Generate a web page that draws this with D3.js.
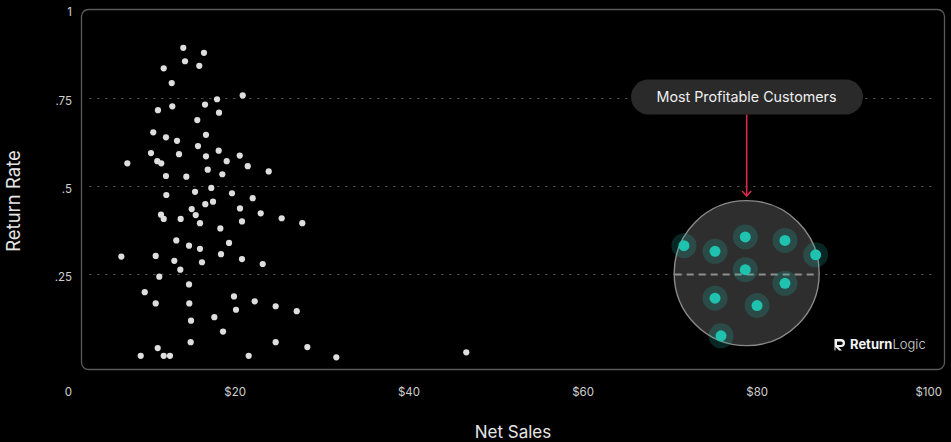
<!DOCTYPE html>
<html><head><meta charset="utf-8">
<script src="https://cdn.jsdelivr.net/npm/d3@7"></script>
<style>
html,body{margin:0;padding:0;background:#000;}
svg{display:block;font-family:Inter,"Noto Sans",sans-serif;}
</style></head>
<body>
<svg id="chart" width="951" height="442"></svg>
<script>
// ---- data ----
const netSales = [13.02,15.40,13.22,14.86,10.77,11.69,19.85,16.90,15.52,11.76,10.11,17.13,14.63,9.57,11.03,12.30,15.63,14.71,9.31,12.53,17.09,15.63,19.51,6.59,10.03,10.49,18.01,20.43,22.84,11.03,13.37,15.83,17.51,
16.24,14.37,11.07,18.62,21.00,16.44,15.55,13.99,19.54,10.46,10.77,12.72,14.45,14.94,19.77,21.92,24.33,26.70,17.28,12.22,18.28,13.68,14.94,17.36,5.90,9.85,11.99,15.17,19.77,22.15,12.68,10.26,13.68,8.59,9.85,13.71,18.85,21.23,19.08,23.64,26.06,13.91,16.59,17.59,13.87,23.64,10.08,27.28,8.13,10.77,11.49,20.54,30.61,45.55];
const returnRate = [0.891,0.877,0.853,0.840,0.833,0.791,0.756,0.745,0.730,0.725,0.714,0.707,0.686,0.651,0.637,0.627,0.644,0.612,0.592,0.589,0.599,0.583,0.585,0.563,0.569,0.563,0.569,0.555,0.540,0.527,0.525,0.545,0.532,
0.493,0.482,0.473,0.478,0.464,0.454,0.447,0.433,0.435,0.417,0.405,0.405,0.416,0.393,0.398,0.421,0.407,0.393,0.378,0.344,0.337,0.329,0.320,0.305,0.298,0.300,0.286,0.282,0.291,0.277,0.261,0.241,0.219,0.197,0.165,0.165,0.185,0.171,0.147,0.157,0.143,0.116,0.126,0.085,0.055,0.055,0.038,0.041,0.016,0.016,0.016,0.016,0.012,0.026];
const topSales = [70.57,74.14,77.62,82.18,85.71,77.62,82.18,74.14,78.97,74.83];
const topReturn = [0.329,0.313,0.354,0.344,0.303,0.261,0.222,0.180,0.159,0.073];
const clusterCenter = [77.78, 0.251];
const xTicks = [0,20,40,60,80,100];
const xTickLabels = ["0","$20","$40","$60","$80","$100"];
const yTicks = [0.25,0.5,0.75,1];
const yTickLabels = [".25",".5",".75","1"];
const calloutText = "Most Profitable Customers";
const xTitle = "Net Sales", yTitle = "Return Rate";

// ---- chart ----
const svg = d3.select("#chart");
svg.append("rect").attr("width",951).attr("height",442).attr("fill","#000");
const x = d3.scaleLinear().domain([0,100]).range([70,940]);
const y = d3.scaleLinear().domain([0,1]).range([361.5,9.5]);

// frame
svg.append("rect").attr("x",81.5).attr("y",9.5).attr("width",863).attr("height",360)
  .attr("rx",7).attr("fill","none").attr("stroke","#5a5a5a").attr("stroke-width",1.3);

// gridlines
svg.append("g").selectAll("line").data(yTicks.filter(d=>d<1)).join("line")
  .attr("x1",89).attr("x2",936).attr("y1",d=>Math.round(y(d))+0.5).attr("y2",d=>Math.round(y(d))+0.5)
  .attr("stroke","#4a4a4a").attr("stroke-width",1).attr("stroke-dasharray","2.5,5.5");

// y tick labels
svg.append("g").selectAll("text").data(yTicks).join("text")
  .attr("x",72).attr("y",d=>y(d)+ (d===1?2.5:3)).attr("dy","0.35em").attr("text-anchor","end")
  .attr("fill","#d0d0d0").attr("font-size",11.5).text((d,i)=>yTickLabels[i]);

// x tick labels
svg.append("g").selectAll("text").data(xTicks).join("text")
  .attr("x",d=>x(d)+2).attr("y",392).attr("dy","0.35em").attr("text-anchor","end")
  .attr("fill","#d0d0d0").attr("font-size",11.5).text((d,i)=>xTickLabels[i]);

// axis titles
svg.append("text").attr("x",513).attr("y",432).attr("dy","0.35em").attr("text-anchor","middle")
  .attr("fill","#e6e6e6").attr("font-size",17).text(xTitle);
svg.append("text").attr("transform","translate(14,201) rotate(-90)").attr("dy","0.35em").attr("text-anchor","middle")
  .attr("fill","#e6e6e6").attr("font-size",18.5).text(yTitle);

// scatter points
svg.append("g").selectAll("circle").data(netSales.map((v,i)=>[v,returnRate[i]])).join("circle")
  .attr("cx",d=>x(d[0])).attr("cy",d=>y(d[1])).attr("r",3.1).attr("fill","#dedede");

// highlight cluster
const cx = x(clusterCenter[0]), cy = y(clusterCenter[1]);
svg.append("circle").attr("cx",cx).attr("cy",cy).attr("r",72.5)
  .attr("fill","#3a3a3a").attr("fill-opacity",0.8).attr("stroke","#8a8a8a").attr("stroke-width",1.4);
svg.append("line").attr("x1",cx-72).attr("x2",cx+72).attr("y1",Math.round(y(0.25))+0.5).attr("y2",Math.round(y(0.25))+0.5)
  .attr("stroke","#8f8f8f").attr("stroke-width",2).attr("stroke-dasharray","7,5");
const tp = topSales.map((v,i)=>[v,topReturn[i]]);
svg.append("g").selectAll("circle").data(tp).join("circle")
  .attr("cx",d=>x(d[0])).attr("cy",d=>y(d[1])).attr("r",12.5).attr("fill","#1fc4b0").attr("fill-opacity",0.2);
svg.append("g").selectAll("circle").data(tp).join("circle")
  .attr("cx",d=>x(d[0])).attr("cy",d=>y(d[1])).attr("r",5.5).attr("fill","#1ec2ae");

// callout
const pillX = 631, pillY = 79.5, pillW = 232, pillH = 35;
svg.append("rect").attr("x",pillX).attr("y",pillY).attr("width",pillW).attr("height",pillH)
  .attr("rx",17.5).attr("fill","#2a2a2a");
svg.append("text").attr("x",pillX+pillW/2-0.5).attr("y",pillY+pillH/2).attr("dy","0.35em").attr("text-anchor","middle")
  .attr("fill","#f0f0f0").attr("font-size",14.3).text(calloutText);
svg.append("line").attr("x1",cx).attr("x2",cx).attr("y1",pillY+pillH).attr("y2",196)
  .attr("stroke","#d42a4c").attr("stroke-width",1.6);
svg.append("path").attr("d",`M${cx-4.5},${191} L${cx},${196} L${cx+4.5},${191}`)
  .attr("fill","none").attr("stroke","#d42a4c").attr("stroke-width",1.6);

// logo
const lg = svg.append("g").attr("transform","translate(834,338)");
lg.append("path").attr("d","M0.5,1 h6.5 a4,4 0 0 1 0,8 h-2.5 l3.5,3.5 h-3 l-3.5,-3.5 v3.5 h-1 z M3,3.5 v3.5 h4 a1.75,1.75 0 0 0 0,-3.5 z")
  .attr("fill","#f2f2f2").attr("fill-rule","evenodd");
const lt = lg.append("text").attr("x",16).attr("y",6.5).attr("dy","0.35em").attr("font-size",13).attr("fill","#f2f2f2");
lt.append("tspan").attr("font-weight",700).text("Return");
lt.append("tspan").attr("font-weight",300).attr("fill","#d8d8d8").text("Logic");
</script>
</body></html>
